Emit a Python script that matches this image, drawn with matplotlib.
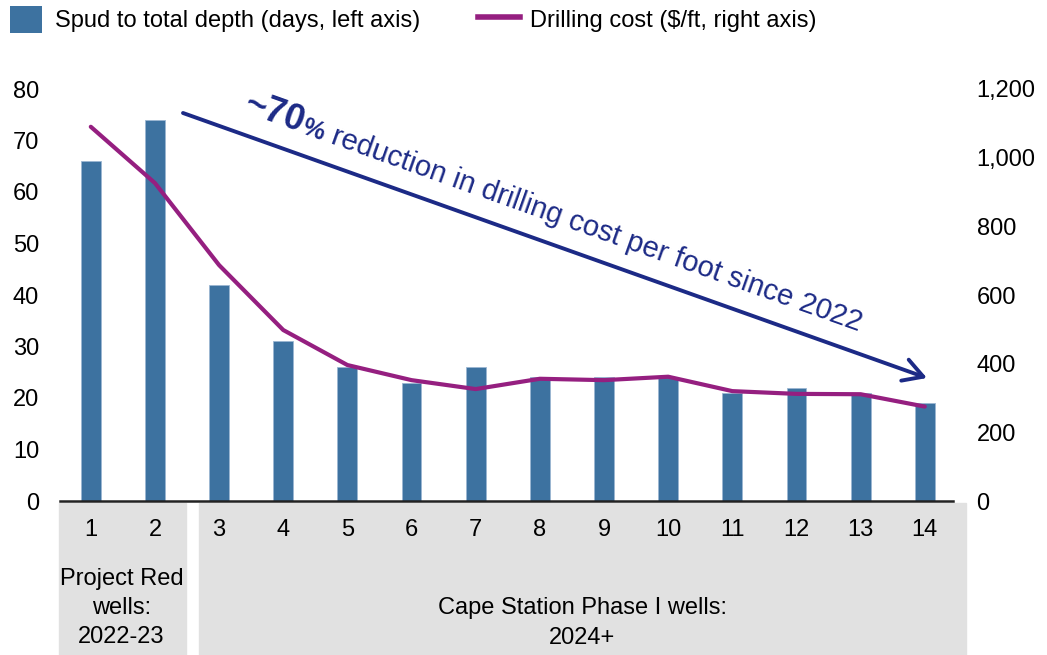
import matplotlib
matplotlib.use('Agg')
import matplotlib.pyplot as plt
import matplotlib.transforms as mtransforms
from matplotlib.patches import Rectangle, Patch
from matplotlib.lines import Line2D
from matplotlib.ticker import StrMethodFormatter
import numpy as np

plt.rcParams['font.family'] = ['Liberation Sans', 'DejaVu Sans']

# data
wells = [1, 2, 3, 4, 5, 6, 7, 8, 9, 10, 11, 12, 13, 14]
spud_days = [66, 74, 42, 31, 26, 23, 26, 24, 24, 24, 21, 22, 21, 19]
cost_per_ft = [1090, 926, 687, 498, 396, 352, 326, 356, 352, 362, 320, 312, 311, 275]
group_labels = ['Project Red\nwells:\n2022-23', 'Cape Station Phase I wells:\n2024+']
legend_labels = ['Spud to total depth (days, left axis)', 'Drilling cost ($/ft, right axis)']
note_bold = '~70'
note_pct = '%'
note_rest = ' reduction in drilling cost per foot since 2022'

bar_color = '#3d72a0'
line_color = '#951f80'
note_color = '#1c2a86'
box_color = '#e1e1e1'
fs = 17

W, H = 1047, 655
fig = plt.figure(figsize=(W / 100, H / 100), dpi=100)
ax = fig.add_axes([60 / W, 1 - 501 / H, (953 - 60) / W, (501 - 89) / H])
ax2 = ax.twinx()

ax.bar(wells, spud_days, width=0.31, color=bar_color, edgecolor='#9bb6d2', linewidth=0.6, zorder=2)
ax2.plot(wells, cost_per_ft, color=line_color, lw=3, solid_capstyle='round', zorder=3)

ax.set_xlim(0.52, 14.44)
ax.set_ylim(0, 80)
ax.set_yticks(range(0, 81, 10))
ax2.set_ylim(0, 1200)
ax2.set_yticks(range(0, 1201, 200))
ax2.yaxis.set_major_formatter(StrMethodFormatter('{x:,.0f}'))
ax.set_xticks(wells)

for a in (ax, ax2):
    for s in a.spines.values():
        s.set_visible(False)
ax.spines['bottom'].set_visible(True)
ax.spines['bottom'].set_linewidth(1.8)
ax.spines['bottom'].set_color('#222222')
ax.spines['bottom'].set_zorder(5)

ax.tick_params(axis='y', length=0, pad=15, labelsize=fs)
ax.tick_params(axis='x', length=0, pad=13, labelsize=fs)
ax2.tick_params(axis='y', length=0, pad=17, labelsize=fs)

# grey group boxes below the axis
trans = mtransforms.blended_transform_factory(ax.transData, fig.transFigure)
box_top = 1 - 503 / H
spans = [(0.50, 2.48), (2.68, 14.64)]
for (x0, x1) in spans:
    ax.add_patch(Rectangle((x0, 0), x1 - x0, box_top, transform=trans, color=box_color,
                           clip_on=False, zorder=0))
ax.text(1.48, 1 - 608 / H, group_labels[0], transform=trans, ha='center', va='center',
        fontsize=fs, linespacing=1.43)
ax.text(8.66, 1 - 623 / H, group_labels[1], transform=trans, ha='center', va='center',
        fontsize=fs, linespacing=1.43)

# legend, one entry each so the handles can differ in length
leg1 = fig.legend([Patch(facecolor=bar_color, edgecolor='none')], legend_labels[:1],
                  loc='upper left', bbox_to_anchor=(4 / W, 1 - 0 / H), frameon=False,
                  fontsize=fs, handlelength=1.36, handleheight=1.36, handletextpad=0.55,
                  borderpad=0.25, borderaxespad=0.0)
leg2 = fig.legend([Line2D([], [], color=line_color, lw=4)], legend_labels[1:],
                  loc='upper left', bbox_to_anchor=(472 / W, 1 - 0 / H), frameon=False,
                  fontsize=fs, handlelength=1.8, handleheight=1.36, handletextpad=0.4,
                  borderpad=0.25, borderaxespad=0.0)

# arrow + rotated note
ax2.annotate('', xy=(927, H - 378), xytext=(183, H - 113), xycoords='figure pixels',
             textcoords='figure pixels',
             arrowprops=dict(arrowstyle='->,head_length=0.7,head_width=0.4', color=note_color,
                             lw=2.8, mutation_scale=20, shrinkA=0, shrinkB=0))

ang = 19.6
fig.canvas.draw()
r = fig.canvas.get_renderer()
px, py = 243.0, H - 112.0
for s, kw in [(note_bold, dict(fontsize=26, fontweight='bold')),
              (note_pct, dict(fontsize=18, fontweight='bold')),
              (note_rest, dict(fontsize=21))]:
    t = fig.text(px / W, py / H, s, color=note_color, ha='left', va='baseline', **kw)
    w = t.get_window_extent(r).width
    t.set_rotation(-ang)
    t.set_rotation_mode('anchor')
    px += w * np.cos(np.radians(ang))
    py -= w * np.sin(np.radians(ang))

fig.savefig('out.png', dpi=100)
